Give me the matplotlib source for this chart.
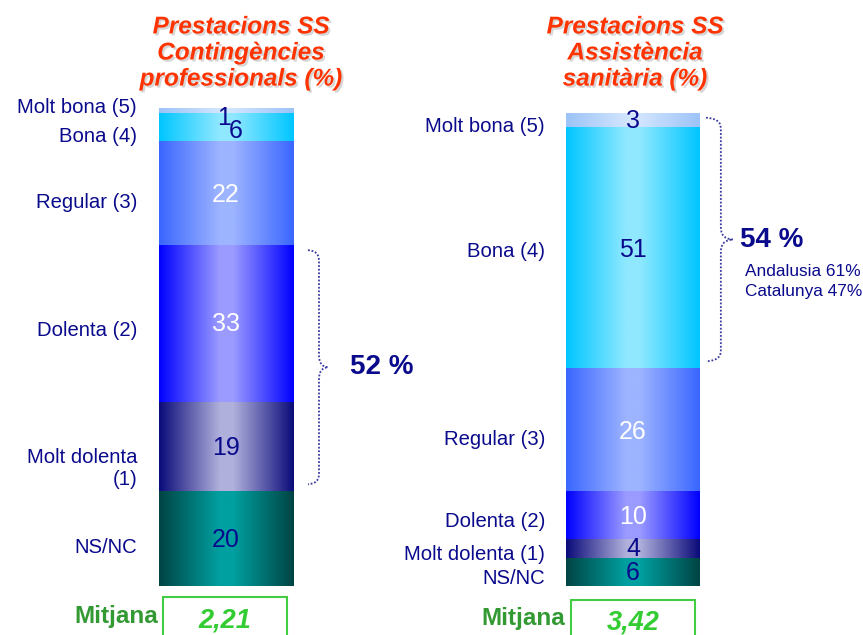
import numpy as np
import matplotlib
matplotlib.use("Agg")
import matplotlib.pyplot as plt
import matplotlib.patheffects as pe
from matplotlib.colors import LinearSegmentedColormap
from matplotlib.patches import PathPatch, Rectangle
from matplotlib.path import Path

# ---------------- data ----------------
CATEGORIES = ["Molt bona (5)", "Bona (4)", "Regular (3)", "Dolenta (2)",
              "Molt dolenta (1)", "NS/NC"]
CONTINGENCIES = [1, 6, 22, 33, 19, 20]
ASSISTENCIA = [3, 51, 26, 10, 4, 6]
TITLES = ["Prestacions SS\nContingències\nprofessionals (%)",
          "Prestacions SS\nAssistència\nsanitària (%)"]
MEANS = [2.21, 3.42]
BRACED = [["Dolenta (2)", "Molt dolenta (1)"], ["Molt bona (5)", "Bona (4)"]]
REGION_NOTE = ["Andalusia 61%", "Catalunya 47%"]

# ---------------- style ----------------
EDGE = ["#9cc3f7", "#00c6ff", "#3a66ff", "#0000ff", "#0b0b7a", "#004444"]
CENTER = ["#d2e5ff", "#90e8ff", "#9db4ff", "#9b9bff", "#b0b0dc", "#00a0a0"]
VALUE_WHITE = ["Regular (3)", "Dolenta (2)"]
NAVY = "#0a0a8c"
TITLE_RED = "#ff3300"
FONT = ["Liberation Sans", "DejaVu Sans"]

W, H = 863, 635
Y0, S = 586, 4.73          # pixel row of 0 %, pixels per percent


def py(y):
    """pixel row -> percent axis value"""
    return (Y0 - y) / S


fig = plt.figure(figsize=(W / 100, H / 100), dpi=100)
ax = fig.add_axes([0, 0, 1, 1])
ax.set_axis_off()

bars = [
    dict(vals=CONTINGENCIES, xc=226, lab_x=137, title_x=241,
         labels=[c if c != "Molt dolenta (1)" else "Molt dolenta\n(1)" for c in CATEGORIES],
         lab_dy=[-3, 9, 9, 7, 22, 9], val_off=[(-2, 7), (10, 4)] + [(0, 2), (0, 1), (0, 2), (0, 1)],
         brace_x=308, brace_w=20, note_x=350, mean_lab_x=158, box=(163, 287, 597),
         mean_y=(617, 620)),
    dict(vals=ASSISTENCIA, xc=633, lab_x=545, title_x=635,
         labels=list(CATEGORIES),
         lab_dy=[6, 4, 10, 6, 6, 7], val_off=[(0, 1), (0, 2), (0, 2), (0, 2), (0, 1), (0, 1)],
         brace_x=706, brace_w=27, note_x=740, mean_lab_x=565, box=(571, 695, 600),
         mean_y=(618, 622)),
]
BAR_W = 134

grad = np.linspace(0, 1, 256).reshape(1, -1)

for bi, b in enumerate(bars):
    vals = np.array(b["vals"], dtype=float)
    # stack from the bottom: NS/NC first
    order = list(range(len(vals)))[::-1]
    bottoms = np.zeros(len(vals))
    acc = 0.0
    for i in order:
        bottoms[i] = acc
        acc += vals[i]
    rects = ax.bar([b["xc"]] * len(vals), vals, bottom=bottoms, width=BAR_W,
                   color="none", edgecolor="none")
    for i, r in enumerate(rects):
        cmap = LinearSegmentedColormap.from_list(
            f"g{bi}{i}", [(0, EDGE[i]), (0.45, CENTER[i]), (0.55, CENTER[i]), (1, EDGE[i])])
        x0, y0 = r.get_x(), r.get_y()
        im = ax.imshow(grad, cmap=cmap, aspect="auto", interpolation="bilinear",
                       extent=[x0, x0 + r.get_width(), y0, y0 + r.get_height()])
        im.set_clip_path(r)

        # value in the segment
        dx, dy = b["val_off"][i]
        col = "white" if CATEGORIES[i] in VALUE_WHITE else NAVY
        ax.text(b["xc"] + dx, y0 + vals[i] / 2 - dy / S, f"{int(vals[i])}",
                ha="center", va="center", fontsize=18, color=col, family=FONT)
        # category label on the left
        ax.text(b["lab_x"], y0 + vals[i] / 2 - b["lab_dy"][i] / S, b["labels"][i],
                ha="right", va="center", fontsize=14.6, color=NAVY, family=FONT,
                linespacing=1.15)

    # title
    ax.text(b["title_x"], py(53), TITLES[bi], ha="center", va="center",
            fontsize=17.5, fontweight="bold", fontstyle="italic", color=TITLE_RED,
            family=FONT, linespacing=1.17,
            path_effects=[pe.withSimplePatchShadow(offset=(1.5, -1.5),
                                                   shadow_rgbFace=(0.55, 0.55, 0.55),
                                                   alpha=0.35)])

    # brace around the grouped categories
    idx = [CATEGORIES.index(c) for c in BRACED[bi]]
    lo = min(bottoms[j] for j in idx) + 1.5
    hi = max(bottoms[j] + vals[j] for j in idx) - 1.0
    mid = (lo + hi) / 2
    bx, bw = b["brace_x"], b["brace_w"]
    k = 2.6
    vx = bx + bw * 0.55
    verts = [(bx, hi), (vx, hi - 0.2), (vx, hi - k * 0.6), (vx, hi - k),
             (vx, mid + k),
             (vx, mid + 0.4), (bx + bw * 0.8, mid + 0.1), (bx + bw, mid),
             (bx + bw * 0.8, mid - 0.1), (vx, mid - 0.4), (vx, mid - k),
             (vx, lo + k),
             (vx, lo + k * 0.6), (vx, lo + 0.2), (bx, lo)]
    codes = [Path.MOVETO, Path.CURVE4, Path.CURVE4, Path.CURVE4, Path.LINETO,
             Path.CURVE4, Path.CURVE4, Path.CURVE4, Path.CURVE4, Path.CURVE4, Path.CURVE4,
             Path.LINETO, Path.CURVE4, Path.CURVE4, Path.CURVE4]
    ax.add_patch(PathPatch(Path(verts, codes), facecolor="none", edgecolor="#3a3aa0",
                           lw=1.3, ls=(0, (1, 1))))
    total = int(sum(vals[j] for j in idx))
    ax.text(b["note_x"], mid, f"{total} %", ha="left", va="center", fontsize=20,
            fontweight="bold", color=NAVY, family=FONT)
    if bi == 1:
        ax.text(b["note_x"] + 5, mid - 24 / S, "\n".join(REGION_NOTE), ha="left", va="top",
                fontsize=12.4, color=NAVY, family=FONT, linespacing=1.45)

    # mean box
    x_l, x_r, top = b["box"]
    ax.add_patch(Rectangle((x_l, py(H + 5)), x_r - x_l, py(top) - py(H + 5),
                           facecolor="white", edgecolor="#44cc44", lw=1.5))
    ax.text(b["mean_lab_x"], py(b["mean_y"][0]), "Mitjana", ha="right", va="center",
            fontsize=17.5, fontweight="bold", color="#339933", family=FONT)
    ax.text((x_l + x_r) / 2, py(b["mean_y"][1]), f"{MEANS[bi]:.2f}".replace(".", ","),
            ha="center", va="center", fontsize=19.5, fontweight="bold",
            fontstyle="italic", color="#33cc33", family=FONT)

ax.set_xlim(0, W)
ax.set_ylim(py(H), py(0))
fig.savefig("out.png", dpi=100)
